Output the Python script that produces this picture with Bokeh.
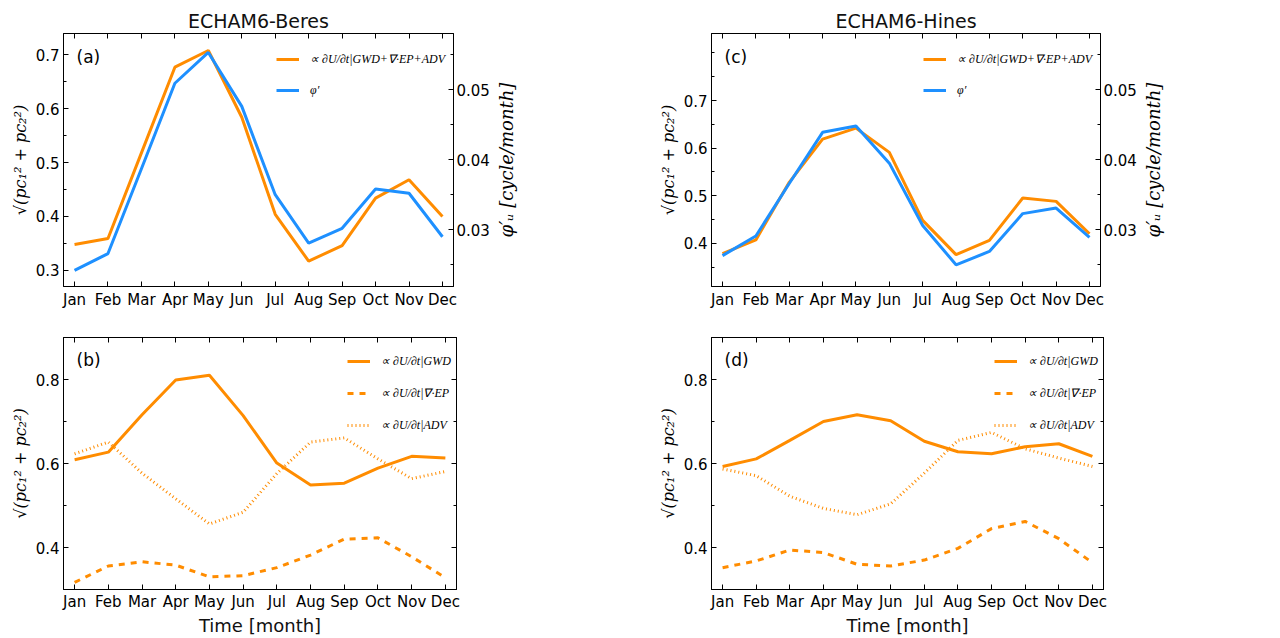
import math
from bokeh.plotting import figure
from bokeh.models import Range1d, LinearAxis, FixedTicker, Legend, LegendItem, Label
from bokeh.layouts import column, row
from bokeh.embed import file_html
from bokeh.resources import INLINE

# ---------------- data ----------------
months = ["Jan", "Feb", "Mar", "Apr", "May", "Jun", "Jul", "Aug", "Sep", "Oct", "Nov", "Dec"]
month_num = list(range(1, 13))

beres_total = [0.348, 0.359, 0.518, 0.677, 0.708, 0.584, 0.404, 0.317, 0.346, 0.434, 0.468, 0.400]
beres_phi = [0.0242, 0.0266, 0.0387, 0.0509, 0.0553, 0.0476, 0.0350, 0.0281, 0.0302, 0.0358, 0.0352, 0.0290]
hines_total = [0.378, 0.407, 0.528, 0.619, 0.642, 0.591, 0.448, 0.376, 0.406, 0.495, 0.488, 0.420]
hines_phi = [0.0263, 0.0291, 0.0366, 0.0439, 0.0448, 0.0395, 0.0306, 0.0250, 0.0269, 0.0323, 0.0331, 0.0289]

beres_gwd = [0.609, 0.627, 0.716, 0.799, 0.810, 0.714, 0.601, 0.549, 0.553, 0.589, 0.617, 0.613]
beres_ep = [0.317, 0.356, 0.366, 0.358, 0.330, 0.333, 0.352, 0.382, 0.420, 0.423, 0.378, 0.328]
beres_adv = [0.623, 0.651, 0.577, 0.516, 0.456, 0.484, 0.576, 0.651, 0.661, 0.611, 0.564, 0.581]
hines_gwd = [0.593, 0.611, 0.655, 0.700, 0.716, 0.702, 0.653, 0.628, 0.623, 0.640, 0.647, 0.617]
hines_ep = [0.352, 0.368, 0.394, 0.388, 0.360, 0.356, 0.370, 0.398, 0.445, 0.462, 0.421, 0.364]
hines_adv = [0.587, 0.571, 0.522, 0.493, 0.478, 0.504, 0.577, 0.655, 0.674, 0.635, 0.613, 0.593]

titles = ["ECHAM6-Beres", "ECHAM6-Hines"]
panel_tags = ["(a)", "(b)", "(c)", "(d)"]
label_total = "∝ ∂U/∂t|GWD+∇·EP+ADV"
label_phi = "φ′"
label_gwd = "∝ ∂U/∂t|GWD"
label_ep = "∝ ∂U/∂t|∇·EP"
label_adv = "∝ ∂U/∂t|ADV"
ylabel_left = "√(pc₁² + pc₂²)"
ylabel_right = "φ′ᵤ [cycle/month]"
xlabel = "Time [month]"

ORANGE = "#FF8C00"
BLUE = "#1E90FF"
FONT = "DejaVu Sans"
SERIF = "DejaVu Serif"
LEG_FONT = "Liberation Serif"

X_RANGE = (0.67, 12.33)


def style_axis(ax, ticks, minor=None, show_labels=True, overrides=None):
    ax.ticker = FixedTicker(ticks=ticks, minor_ticks=minor or [])
    ax.major_tick_in = 5
    ax.major_tick_out = 0
    ax.minor_tick_in = 3
    ax.minor_tick_out = 0
    ax.axis_line_color = "black"
    ax.major_tick_line_color = "black"
    ax.minor_tick_line_color = "black"
    ax.major_label_text_font = FONT
    if show_labels:
        ax.major_label_text_color = "black"
        ax.major_label_text_font_size = "15px"
        ax.major_label_standoff = 4
    else:
        ax.major_label_text_color = None
        ax.major_label_text_font_size = "0px"
        ax.major_label_standoff = 0
    if overrides:
        ax.major_label_overrides = overrides


def make_fig(width, height, left, right, top, bottom, yr, title=None):
    p = figure(width=width, height=height, x_range=Range1d(*X_RANGE), y_range=Range1d(*yr),
               output_backend="svg", toolbar_location=None, title=title,
               min_border_left=left, min_border_right=right,
               min_border_top=top, min_border_bottom=bottom)
    p.xgrid.visible = False
    p.ygrid.visible = False
    p.outline_line_color = "black"
    p.outline_line_width = 1
    p.background_fill_color = "white"
    p.border_fill_color = "white"
    if title:
        p.title.text_font = FONT
        p.title.text_font_size = "19px"
        p.title.text_font_style = "normal"
        p.title.text_color = "#111111"
        p.title.align = "center"
        p.title.standoff = 4
    bottom_ax = p.xaxis[0]
    month_over = {m: months[i] for i, m in enumerate(month_num)}
    style_axis(bottom_ax, month_num, overrides=month_over)
    top_ax = LinearAxis()
    style_axis(top_ax, month_num, show_labels=False)
    p.add_layout(top_ax, "above")
    return p, bottom_ax


def left_label(ax):
    ax.axis_label = ylabel_left
    ax.axis_label_text_font = SERIF
    ax.axis_label_text_font_style = "italic"
    ax.axis_label_text_font_size = "16px"
    ax.axis_label_text_color = "black"
    ax.axis_label_standoff = 3


def add_tag(p, text, frame_h):
    p.add_layout(Label(x=13, y=frame_h - 23, x_units="screen", y_units="screen", text=text,
                       text_font=FONT, text_font_size="17px", text_baseline="middle",
                       text_color="black"))


def make_legend(items, vx, vy, spacing):
    leg = Legend(items=items, location=(vx, vy))
    leg.border_line_color = None
    leg.background_fill_alpha = 0
    leg.padding = 0
    leg.margin = 0
    leg.spacing = spacing
    leg.glyph_width = 23
    leg.glyph_height = 20
    leg.label_height = 20
    leg.label_standoff = 11
    leg.label_text_font = LEG_FONT
    leg.label_text_font_style = "italic"
    leg.label_text_font_size = "12px"
    leg.label_text_color = "black"
    return leg


FRAME_H = 253
TOP_H, BOT_H = 318, 320
phi_range = (0.0219, 0.058)


def top_panel(width, left, right, yr, yticks, yminor, total, phi, title, tag, legx):
    p, _ = make_fig(width, TOP_H, left, right, 33, 32, yr, title=title)
    style_axis(p.yaxis[0], yticks, yminor)
    left_label(p.yaxis[0])
    p.extra_y_ranges = {"phi": Range1d(*phi_range)}
    rax = LinearAxis(y_range_name="phi")
    style_axis(rax, [0.03, 0.04, 0.05], [0.025, 0.035, 0.045, 0.055])
    rax.major_label_standoff = 3
    p.add_layout(rax, "right")
    r1 = p.line(month_num, total, line_color=ORANGE, line_width=3)
    r2 = p.line(month_num, phi, line_color=BLUE, line_width=3, y_range_name="phi")
    add_tag(p, tag, FRAME_H)
    leg = make_legend([LegendItem(label=label_total, renderers=[r1]),
                       LegendItem(label=label_phi, renderers=[r2])], legx, FRAME_H - 16 - 51, 11)
    p.add_layout(leg)
    return p


def right_label_strip(width):
    # narrow companion figure whose left axis carries the right-hand y label
    s = figure(width=width, height=TOP_H, x_range=Range1d(0, 1), y_range=Range1d(*phi_range),
               output_backend="svg", toolbar_location=None, x_axis_location=None,
               min_border_left=0, min_border_right=0, min_border_top=33, min_border_bottom=32)
    s.xgrid.visible = False
    s.ygrid.visible = False
    s.outline_line_color = None
    s.background_fill_color = "white"
    s.border_fill_color = "white"
    ax = s.yaxis[0]
    ax.ticker = FixedTicker(ticks=[])
    ax.axis_line_color = None
    ax.major_tick_line_color = None
    ax.minor_tick_line_color = None
    ax.major_label_text_color = None
    ax.major_label_text_font_size = "0px"
    ax.major_label_standoff = 0
    ax.major_tick_out = 0
    ax.minor_tick_out = 0
    ax.axis_label = ylabel_right
    ax.axis_label_text_font = SERIF
    ax.axis_label_text_font_style = "italic"
    ax.axis_label_text_font_size = "18px"
    ax.axis_label_text_color = "black"
    ax.axis_label_standoff = 0
    return s


def bottom_panel(width, left, right, gwd, ep, adv, tag, legx):
    p, xa = make_fig(width, BOT_H, left, right, 19, 48, (0.3, 0.9))
    style_axis(p.yaxis[0], [0.4, 0.6, 0.8], [0.3, 0.5, 0.7, 0.9])
    left_label(p.yaxis[0])
    rax = LinearAxis()
    style_axis(rax, [0.4, 0.6, 0.8], [0.3, 0.5, 0.7, 0.9], show_labels=False)
    p.add_layout(rax, "right")
    xa.major_label_standoff = 3
    xa.axis_label = xlabel
    xa.axis_label_text_font = FONT
    xa.axis_label_text_font_style = "normal"
    xa.axis_label_text_font_size = "18px"
    xa.axis_label_text_color = "#111111"
    xa.axis_label_standoff = 1
    r1 = p.line(month_num, gwd, line_color=ORANGE, line_width=3)
    r2 = p.line(month_num, ep, line_color=ORANGE, line_width=3, line_dash="6 6")
    r3 = p.line(month_num, adv, line_color=ORANGE, line_width=3, line_dash="1 3")
    add_tag(p, tag, FRAME_H)
    leg = make_legend([LegendItem(label=label_gwd, renderers=[r1]),
                       LegendItem(label=label_ep, renderers=[r2]),
                       LegendItem(label=label_adv, renderers=[r3])], legx, FRAME_H - 15 - 84, 12)
    p.add_layout(leg)
    return p


pa = top_panel(492, 63, 36, (0.27, 0.7395), [0.3, 0.4, 0.5, 0.6, 0.7],
               [0.35, 0.45, 0.55, 0.65], beres_total, beres_phi, titles[0], panel_tags[0], 213)
sa = right_label_strip(156)
pc = top_panel(491, 63, 36, (0.309, 0.841), [0.4, 0.5, 0.6, 0.7],
               [0.35, 0.45, 0.55, 0.65, 0.75, 0.8], hines_total, hines_phi, titles[1], panel_tags[2], 212)
sc = right_label_strip(133)
pb = bottom_panel(648, 63, 192, beres_gwd, beres_ep, beres_adv, panel_tags[1], 284)
pd = bottom_panel(624, 63, 169, hines_gwd, hines_ep, hines_adv, panel_tags[3], 283)

layout = column(row(pa, sa, pc, sc), row(pb, pd))
open("out.html", "w").write(file_html(layout, INLINE))
